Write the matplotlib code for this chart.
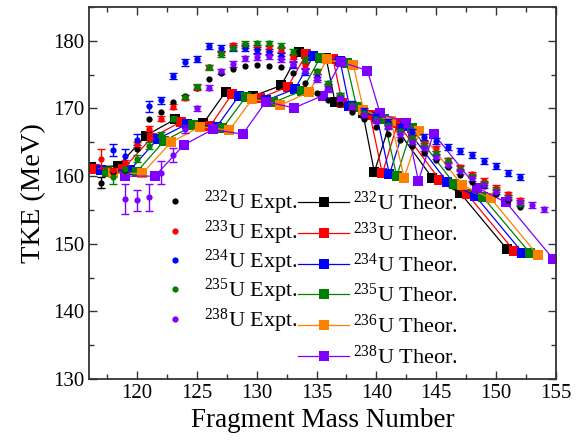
import numpy as np
import matplotlib
matplotlib.use('Agg')
import matplotlib.pyplot as plt
from matplotlib.lines import Line2D
from matplotlib.ticker import MultipleLocator

plt.rcParams['font.family'] = ['Liberation Serif', 'DejaVu Serif']
plt.rcParams['mathtext.fontset'] = 'custom'
plt.rcParams['mathtext.rm'] = 'Liberation Serif'
plt.rcParams['mathtext.it'] = 'Liberation Serif:italic'

# ---- experimental TKE (MeV) vs fragment mass ----
a_232 = list(range(117, 153))
tke_232 = [159.0, 160.6, 160.9, 164.0, 168.4, 169.5, 171.0, 171.8, 173.0, 174.4,
           175.3, 175.9, 176.3, 176.4, 176.3, 176.2, 175.2, 173.8, 172.3, 171.3,
           170.7, 169.5, 168.4, 167.3, 166.2, 165.4, 164.5, 163.4, 162.4, 161.4,
           160.2, 159.2, 158.5, 157.4, 156.5, 155.4]
err_232 = [0.8] + [0.0] * 35

a_233 = list(range(117, 153))
tke_233 = [162.6, 160.9, 162.0, 164.7, 167.0, 168.5, 170.25, 171.6, 173.1, 176.15,
           178.2, 179.4, 179.3, 179.1, 178.9, 178.7, 177.6, 176.4, 175.4, 173.3,
           171.6, 170.3, 169.4, 168.5, 167.8, 166.8, 165.8, 164.9, 164.1, 162.4,
           161.3, 160.3, 159.3, 158.3, 157.3, 156.4]
err_233 = [1.35] + [0.35] * 35

a_234 = list(range(118, 153))
tke_234 = [163.9, 163.0, 165.4, 170.3, 171.2, 174.8, 176.8, 177.3, 179.2, 179.0,
           179.0, 178.9, 178.7, 178.4, 177.8, 176.4, 175.4, 174.6, 173.1, 171.8,
           170.6, 169.6, 168.8, 168.0, 167.3, 166.5, 165.8, 165.2, 164.3, 163.7,
           163.1, 162.2, 161.5, 160.5, 159.9]
err_234 = [0.9, 1.0, 0.85, 0.85, 0.55] + [0.45] * 30

a_235 = list(range(118, 153))
tke_235 = [159.9, 161.0, 162.6, 164.5, 166.1, 168.5, 171.7, 173.2, 176.1, 178.0,
           179.0, 179.6, 179.7, 179.7, 179.3, 178.4, 177.2, 175.5, 173.7, 172.0,
           170.5, 169.4, 168.4, 167.5, 166.6, 165.6, 164.6, 163.4, 162.3, 161.1,
           160.0, 159.0, 158.0, 156.9, 155.9]
err_235 = [1.0, 0.6, 0.5, 0.5] + [0.35] * 31

a_238 = list(range(119, 155))
tke_238 = [156.6, 156.4, 156.9, 160.5, 163.1, 167.0, 170.0, 173.1, 175.5, 176.6,
           177.4, 177.6, 177.7, 177.3, 176.6, 175.6, 174.3, 172.9, 171.5, 170.2,
           169.0, 168.2, 167.3, 166.2, 165.1, 164.1, 162.9, 161.7, 160.7, 159.7,
           158.7, 157.7, 156.8, 156.1, 155.7, 155.1]
err_238 = [2.2, 1.6, 2.0, 1.7, 1.0, 0.6] + [0.4] * 30

# ---- theoretical TKE ----
th_a_232 = [116.17, 118.45, 120.76, 123.18, 125.55, 127.42, 129.66, 132.04, 133.57,
            135.8, 136.55, 138.87, 139.83, 141.19, 144.68, 147.0, 150.9]
th_232 = [161.4, 161.5, 166.0, 168.4, 167.8, 172.5, 171.8, 173.4, 178.3,
          177.5, 170.9, 169.3, 160.6, 168.2, 159.7, 157.5, 149.2]
th_a_233 = [116.5, 118.87, 121.24, 123.66, 126.11, 127.97, 130.24, 132.6, 134.13,
            136.38, 137.16, 139.47, 140.5, 141.77, 145.27, 147.6, 151.53]
th_233 = [161.1, 161.1, 165.7, 168.0, 167.4, 172.2, 171.5, 173.2, 178.0,
          177.3, 170.75, 169.0, 160.4, 167.8, 159.5, 157.3, 148.9]
th_a_234 = [117.0, 119.43, 121.74, 124.19, 126.67, 128.53, 130.79, 133.21, 134.74,
            136.97, 137.74, 140.06, 141.09, 142.36, 145.88, 148.25, 152.2]
th_234 = [160.9, 160.9, 165.5, 167.7, 167.3, 171.9, 171.2, 172.9, 177.8,
          177.0, 170.4, 168.7, 160.25, 167.4, 159.2, 157.1, 148.7]
th_a_235 = [117.48, 119.98, 122.27, 124.71, 127.14, 129.09, 131.37, 133.77, 135.3,
            137.52, 138.36, 140.64, 141.7, 142.96, 146.49, 148.89, 152.84]
th_235 = [160.6, 160.6, 165.2, 167.5, 167.05, 171.7, 170.9, 172.6, 177.5,
          176.7, 170.15, 168.4, 160.0, 167.05, 158.9, 156.9, 148.6]
th_a_236 = [118.03, 120.45, 122.85, 125.27, 127.72, 129.64, 131.96, 134.38, 135.86,
            138.08, 138.92, 141.23, 142.32, 143.6, 147.13, 149.56, 153.48]
th_236 = [160.4, 160.4, 165.0, 167.3, 166.8, 171.4, 170.5, 172.4, 177.25,
          176.4, 169.8, 168.1, 159.75, 166.65, 158.7, 156.7, 148.3]
th_a_238 = [119.0, 121.51, 123.91, 126.33, 128.84, 130.76, 133.13, 135.52, 137.03,
            139.25, 140.31, 142.48, 143.51, 144.77, 148.39, 150.84, 154.74]
th_238 = [160.0, 160.0, 164.6, 166.9, 166.2, 171.0, 170.1, 171.9, 176.9,
          175.6, 169.3, 167.9, 159.3, 166.3, 158.3, 156.1, 147.8]

expt_labels = ['232', '233', '234', '235', '238']
theo_labels = ['232', '233', '234', '235', '236', '238']
colors = {'232': 'black', '233': '#ff0000', '234': '#0000ff', '235': '#008000',
          '236': '#ff8000', '238': '#8000ff'}

expt = {'232': (a_232, tke_232, err_232), '233': (a_233, tke_233, err_233),
        '234': (a_234, tke_234, err_234), '235': (a_235, tke_235, err_235),
        '238': (a_238, tke_238, err_238)}
theo = {'232': (th_a_232, th_232), '233': (th_a_233, th_233), '234': (th_a_234, th_234),
        '235': (th_a_235, th_235), '236': (th_a_236, th_236), '238': (th_a_238, th_238)}

fig = plt.figure(figsize=(5.79, 4.40), dpi=100)
ax = fig.add_axes([0.1537, 0.1386, 0.8066, 0.8454])

for k in theo_labels:
    xa, ya = theo[k]
    ax.plot(xa, ya, '-s', color=colors[k], lw=0.9, ms=7.5, mew=0, zorder=2)

for k in expt_labels:
    xa, ya, ea = expt[k]
    xa = np.array(xa); ya = np.array(ya); ea = np.array(ea)
    m = ea > 0
    if m.any():
        ax.errorbar(xa[m], ya[m], yerr=ea[m], fmt='none', ecolor=colors[k],
                    elinewidth=1.0, capsize=3, capthick=1.0, zorder=3)
    ax.plot(xa, ya, 'o', color=colors[k], ms=4.5, mew=0, zorder=4)

ax.set_xlim(116, 155)
ax.set_ylim(130, 185)
ax.xaxis.set_minor_locator(MultipleLocator(2.5))
ax.yaxis.set_minor_locator(MultipleLocator(5))
ax.set_xticks([120, 125, 130, 135, 140, 145, 150, 155])
ax.set_yticks([130, 140, 150, 160, 170, 180])
ax.tick_params(which='both', direction='in', top=True, right=True,
               labelsize=15, color='#333333', width=1.0)
ax.tick_params(which='major', length=6)
ax.tick_params(which='minor', length=3.5)
for s in ax.spines.values():
    s.set_linewidth(1.3)
    s.set_color('#333333')

ax.set_xlabel('Fragment Mass Number', fontsize=19.5, labelpad=4)
ax.set_ylabel('TKE (MeV)', fontsize=20.5, labelpad=5)

# two legend columns: experiments (left) and theory (right)
h_expt = [Line2D([], [], ls='none', marker='o', color=colors[k], ms=4.5, mew=0)
          for k in expt_labels]
l_expt = [r'$^{%s}$U Expt.' % k for k in expt_labels]
h_theo = [Line2D([], [], color=colors[k], lw=0.9, marker='s', ms=7, mew=0)
          for k in theo_labels]
l_theo = [r'$^{%s}$U Theor.' % k for k in theo_labels]

leg1 = ax.legend(h_expt, l_expt, frameon=False, fontsize=16,
                 loc='upper left', bbox_to_anchor=(138 / 579, 1 - 178 / 440),
                 bbox_transform=fig.transFigure, borderpad=0, handlelength=2.3,
                 handletextpad=0.15, labelspacing=0.05)
ax.add_artist(leg1)
ax.legend(h_theo, l_theo, frameon=False, fontsize=16,
          loc='upper left', bbox_to_anchor=(287 / 579, 1 - 180.5 / 440),
          bbox_transform=fig.transFigure, borderpad=0, handlelength=2.3,
          handletextpad=0.15, labelspacing=0.34)

fig.savefig('out.png', dpi=100)
